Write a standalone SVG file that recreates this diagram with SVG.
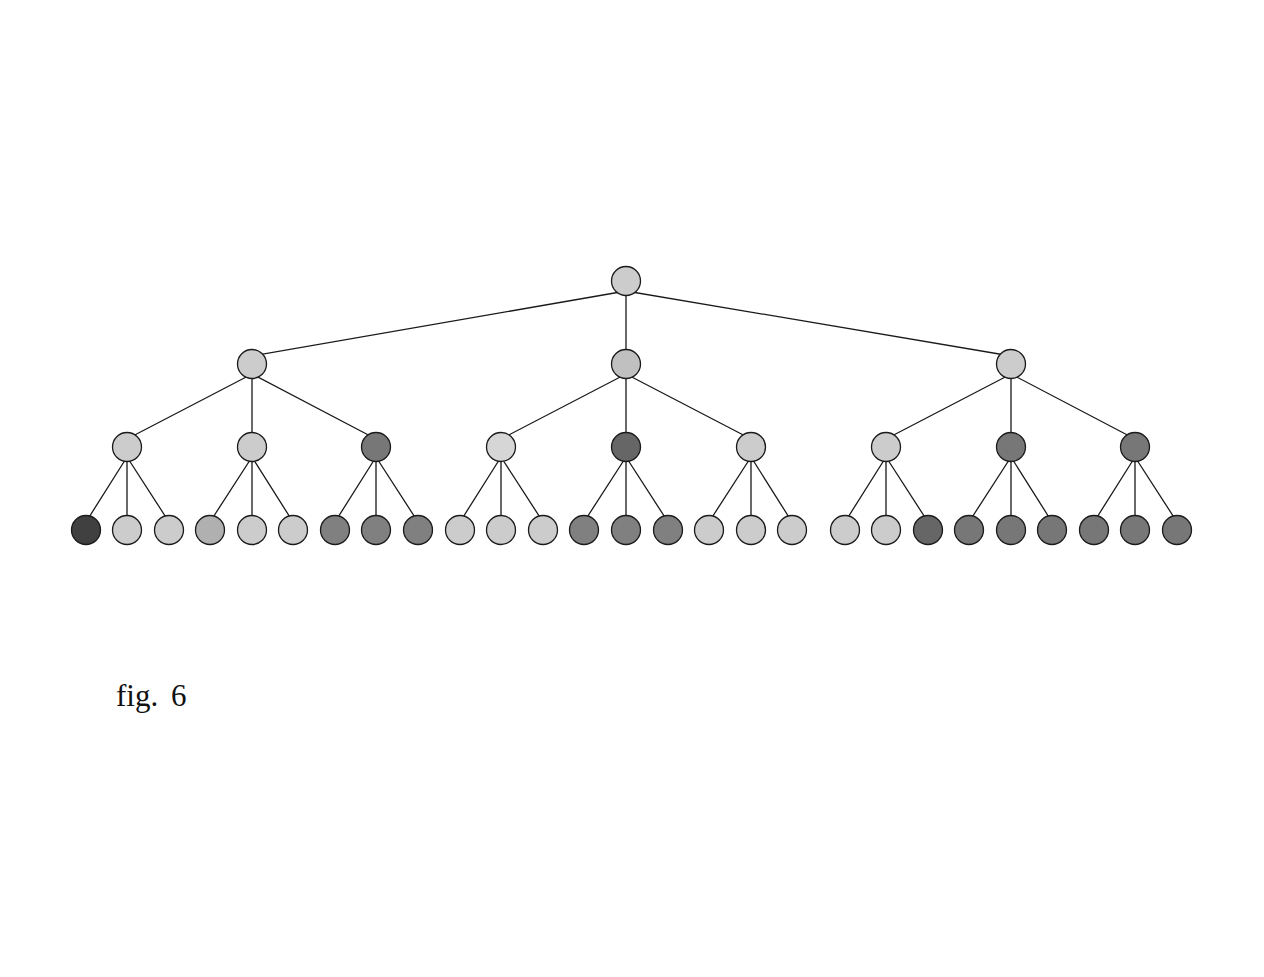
<svg xmlns="http://www.w3.org/2000/svg" width="1264" height="977" viewBox="0 0 1264 977">
<style>
.e{stroke:#1a1a1a;stroke-width:1.3;fill:none}
.n{stroke:#1a1a1a;stroke-width:1.3}
.t{font-family:"Liberation Serif",serif;font-size:31px;fill:#111}
</style>
<rect width="1264" height="977" fill="#fff"/>
<g id="connectors">
<path class="e" d="M626 291L252 356M626 291L626 356M626 291L1011 356
M252 374L127 439M252 374L252 439M252 374L376 439
M626 374L501 439M626 374L626 439M626 374L751 439
M1011 374L886 439M1011 374L1011 439M1011 374L1135 439
M127 457L86 522M127 457L127 522M127 457L169 522
M252 457L210 522M252 457L252 522M252 457L293 522
M376 457L335 522M376 457L376 522M376 457L418 522
M501 457L460 522M501 457L501 522M501 457L543 522
M626 457L584 522M626 457L626 522M626 457L668 522
M751 457L709 522M751 457L751 522M751 457L792 522
M886 457L845 522M886 457L886 522M886 457L928 522
M1011 457L969 522M1011 457L1011 522M1011 457L1052 522
M1135 457L1094 522M1135 457L1135 522M1135 457L1177 522"/>
</g>
<g id="root"><circle class="n" cx="626" cy="281" r="14.5" fill="#cccccc"/></g>
<g id="l1a"><circle class="n" cx="252" cy="364" r="14.5" fill="#cccccc"/></g>
<g id="l1b"><circle class="n" cx="626" cy="364" r="14.5" fill="#c0c0c0"/></g>
<g id="l1c"><circle class="n" cx="1011" cy="364" r="14.5" fill="#cccccc"/></g>
<g id="l2a"><circle class="n" cx="127" cy="447" r="14.5" fill="#cccccc"/></g>
<g id="l2b"><circle class="n" cx="252" cy="447" r="14.5" fill="#cccccc"/></g>
<g id="l2c"><circle class="n" cx="376" cy="447" r="14.5" fill="#777777"/></g>
<g id="l2d"><circle class="n" cx="501" cy="447" r="14.5" fill="#d6d6d6"/></g>
<g id="l2e"><circle class="n" cx="626" cy="447" r="14.5" fill="#666666"/></g>
<g id="l2f"><circle class="n" cx="751" cy="447" r="14.5" fill="#cccccc"/></g>
<g id="l2g"><circle class="n" cx="886" cy="447" r="14.5" fill="#cccccc"/></g>
<g id="l2h"><circle class="n" cx="1011" cy="447" r="14.5" fill="#777777"/></g>
<g id="l2i"><circle class="n" cx="1135" cy="447" r="14.5" fill="#777777"/></g>
<g id="leaf1"><circle class="n" cx="86" cy="530" r="14.5" fill="#404040"/></g>
<g id="leaf2"><circle class="n" cx="127" cy="530" r="14.5" fill="#cccccc"/></g>
<g id="leaf3"><circle class="n" cx="169" cy="530" r="14.5" fill="#cccccc"/></g>
<g id="leaf4"><circle class="n" cx="210" cy="530" r="14.5" fill="#b0b0b0"/></g>
<g id="leaf5"><circle class="n" cx="252" cy="530" r="14.5" fill="#cccccc"/></g>
<g id="leaf6"><circle class="n" cx="293" cy="530" r="14.5" fill="#cccccc"/></g>
<g id="leaf7"><circle class="n" cx="335" cy="530" r="14.5" fill="#808080"/></g>
<g id="leaf8"><circle class="n" cx="376" cy="530" r="14.5" fill="#808080"/></g>
<g id="leaf9"><circle class="n" cx="418" cy="530" r="14.5" fill="#808080"/></g>
<g id="leaf10"><circle class="n" cx="460" cy="530" r="14.5" fill="#cccccc"/></g>
<g id="leaf11"><circle class="n" cx="501" cy="530" r="14.5" fill="#cccccc"/></g>
<g id="leaf12"><circle class="n" cx="543" cy="530" r="14.5" fill="#cccccc"/></g>
<g id="leaf13"><circle class="n" cx="584" cy="530" r="14.5" fill="#808080"/></g>
<g id="leaf14"><circle class="n" cx="626" cy="530" r="14.5" fill="#808080"/></g>
<g id="leaf15"><circle class="n" cx="668" cy="530" r="14.5" fill="#808080"/></g>
<g id="leaf16"><circle class="n" cx="709" cy="530" r="14.5" fill="#cccccc"/></g>
<g id="leaf17"><circle class="n" cx="751" cy="530" r="14.5" fill="#cccccc"/></g>
<g id="leaf18"><circle class="n" cx="792" cy="530" r="14.5" fill="#cccccc"/></g>
<g id="leaf19"><circle class="n" cx="845" cy="530" r="14.5" fill="#cccccc"/></g>
<g id="leaf20"><circle class="n" cx="886" cy="530" r="14.5" fill="#cccccc"/></g>
<g id="leaf21"><circle class="n" cx="928" cy="530" r="14.5" fill="#666666"/></g>
<g id="leaf22"><circle class="n" cx="969" cy="530" r="14.5" fill="#777777"/></g>
<g id="leaf23"><circle class="n" cx="1011" cy="530" r="14.5" fill="#777777"/></g>
<g id="leaf24"><circle class="n" cx="1052" cy="530" r="14.5" fill="#777777"/></g>
<g id="leaf25"><circle class="n" cx="1094" cy="530" r="14.5" fill="#777777"/></g>
<g id="leaf26"><circle class="n" cx="1135" cy="530" r="14.5" fill="#777777"/></g>
<g id="leaf27"><circle class="n" cx="1177" cy="530" r="14.5" fill="#777777"/></g>
<text class="t" x="116" y="706">fig.<tspan x="171">6</tspan></text>
</svg>
